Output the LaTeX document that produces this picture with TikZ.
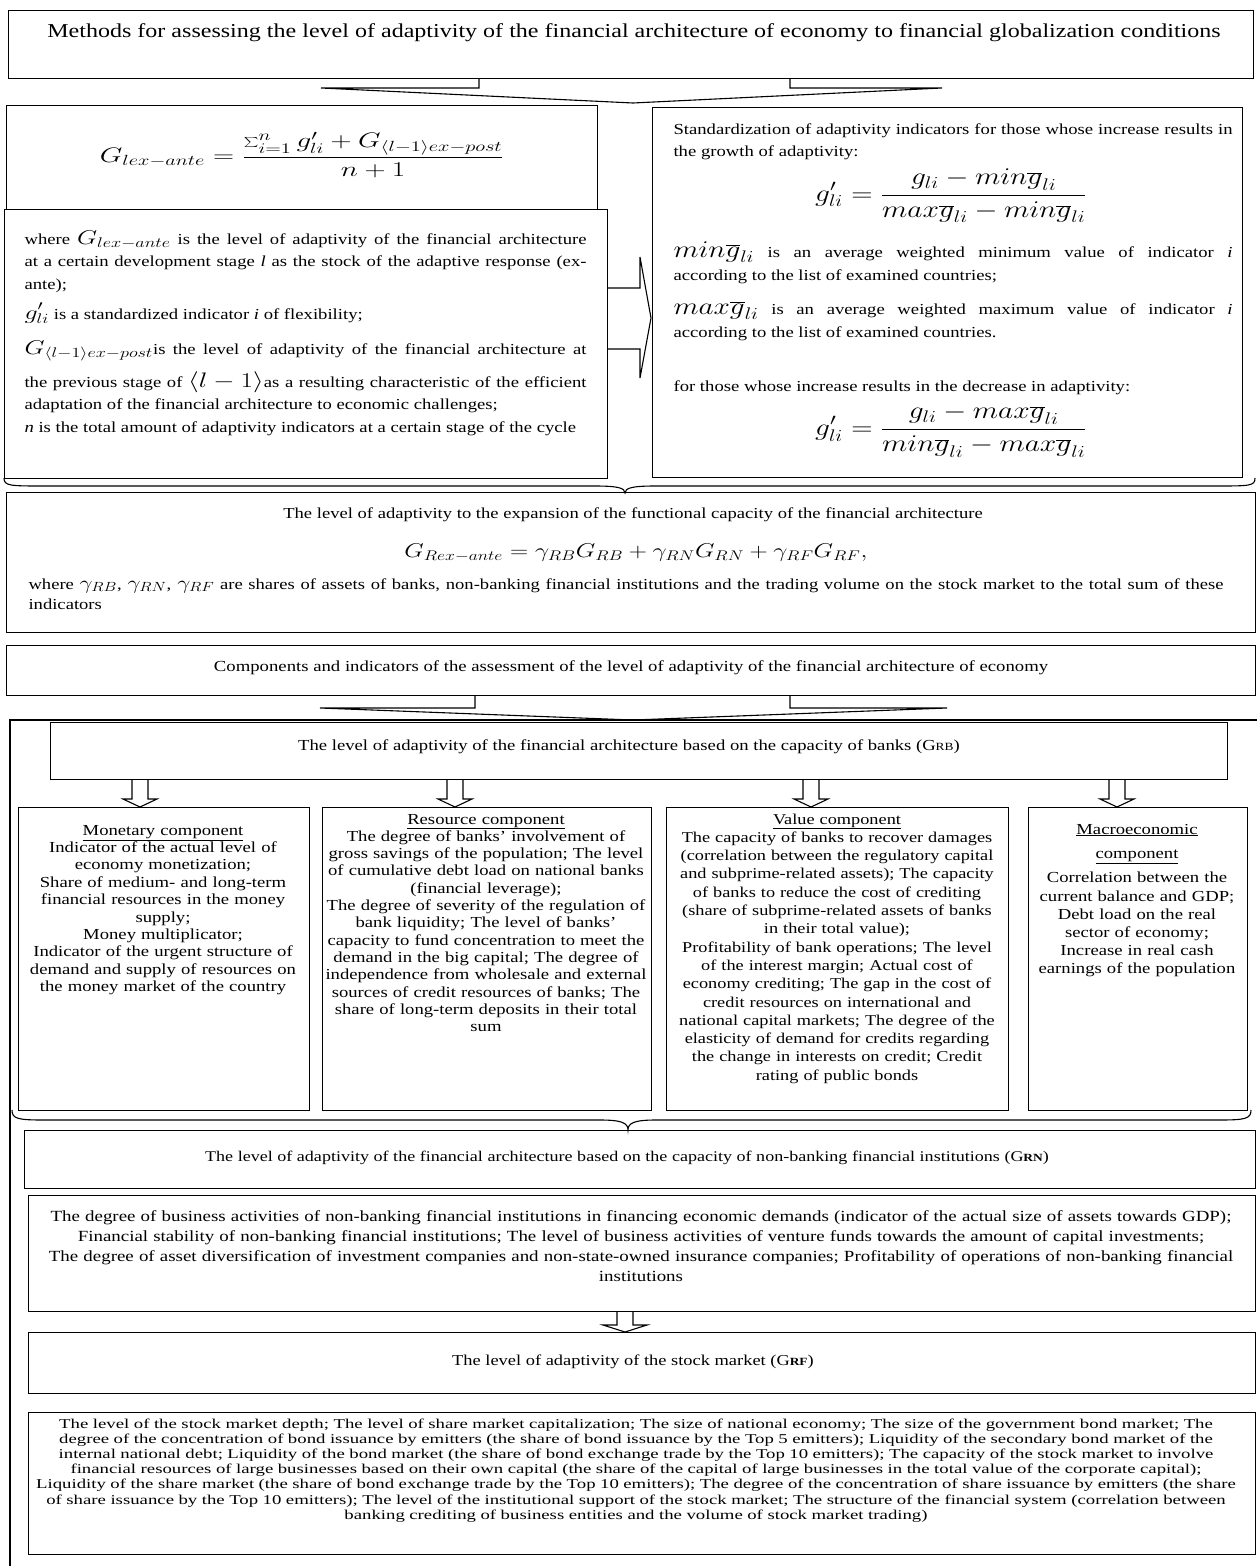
\RequirePackage{fix-cm}
\documentclass[tikz,border=0pt]{standalone}
\usepackage{fontspec}
\setmainfont{Liberation Serif}[FakeStretch=1.22]
\newfontfamily\widerm{Liberation Serif}[FakeStretch=1.39]
\usepackage{graphicx}
\usetikzlibrary{positioning}

\newcommand\fs[2]{\fontsize{#1}{#2}\selectfont\lineskiplimit=-50pt}
\newcommand\mwide[2][1.22]{\scalebox{#1}[1]{$\displaystyle #2$}}

\begin{document}
\begin{tikzpicture}[x=1pt, y=-1pt, line width=1.1pt,
    panel/.style={draw, anchor=north west, inner sep=0pt},
    txt/.style={inner sep=0pt, align=center},
    para/.style={inner sep=0pt, align=justify, anchor=base west},
    cmp/.style={inner sep=0pt, align=center, anchor=base}]
  \useasboundingbox (0,0) rectangle (1257,1566);

  % methods
  \node[panel, minimum width=1245, minimum height=68] (methods) at (8,10) {};
  \node[txt, font=\fs{19.7}{24}] (methodstxt) at (634,33) {Methods for assessing the level of adaptivity of the financial architecture of economy to financial globalization conditions};
  \draw (479,78) -- (479,88) -- (321,88) -- (633,103) -- (942,88) -- (790,88) -- (790,78);

  % ex-ante level
  \node[panel, minimum width=591, minimum height=120] (exante) at (6,105) {};
  \node[txt, font=\fs{21}{24}] (exantef) at (302,155) {\mwide[1.39]{G_{lex-ante}=\frac{\sum_{i=1}^{n}g'_{li}+G_{\langle l-1\rangle ex-post}}{n+1}}};
  \node[panel, fill=white, minimum width=603, minimum height=269] (where) at (4,209) {};
  \node[para, text width=562, font=\fs{15.3}{22.5}] (wheretxt) at (24,244) {where {\fs{20}{20}\mwide[1.3]{G_{lex-ante}}} is the level of adaptivity of the financial architecture\linebreak
    at a certain development stage \textit{l} as the stock of the adaptive response (ex-\linebreak
    ante);\\[7.5pt]
    {\fs{20}{20}\mwide[1.3]{g'_{li}}} is a standardized indicator \textit{i} of flexibility;\\[12.5pt]
    {\fs{20}{20}\mwide[1.3]{G_{\langle l-1\rangle ex-post}}}is the level of adaptivity of the financial architecture at\vadjust{\vskip10.5pt}\linebreak
    the previous stage of {\fs{21}{21}\mwide[1.3]{\langle l-1\rangle}}as a resulting characteristic of the efficient\linebreak
    adaptation of the financial architecture to economic challenges;\\
    \textit{n} is the total amount of adaptivity indicators at a certain stage of the cycle};
  \draw (607,288) -- (640,288) -- (640,257) -- (651,318) -- (640,378) -- (640,349) -- (607,349);

  % standardization
  \node[panel, minimum width=590, minimum height=370] (stdz) at (652,107) {};
  \node[para, text width=559, font=\fs{15.3}{22}] (stdztxt) at (673,134) {Standardization of adaptivity indicators for those whose increase results in\linebreak the growth of adaptivity:};
  \node[txt, font=\fs{24}{26}] (growf) at (951,196) {\mwide[1.23]{g'_{li}=\frac{g_{li}-min\overline{g}_{li}}{max\overline{g}_{li}-min\overline{g}_{li}}}};
  \node[para, text width=559, font=\fs{15.3}{23}] (mindef) at (673,257) {{\fs{24}{24}\mwide{min\overline{g}_{li}}} is an average weighted minimum value of indicator \textit{i}\linebreak according to the list of examined countries;};
  \node[para, text width=559, font=\fs{15.3}{23}] (maxdef) at (673,314) {{\fs{24}{24}\mwide{max\overline{g}_{li}}} is an average weighted maximum value of indicator \textit{i}\linebreak according to the list of examined countries.};
  \node[para, text width=559, font=\fs{15.3}{22}] (decrtxt) at (673,391) {for those whose increase results in the decrease in adaptivity:};
  \node[txt, font=\fs{24}{26}] (decrf) at (951,431) {\mwide[1.23]{g'_{li}=\frac{g_{li}-max\overline{g}_{li}}{min\overline{g}_{li}-max\overline{g}_{li}}}};

  \draw (4,478) .. controls (4,486) and (10,486) .. (45,486) -- (595,486) .. controls (618,486) and (625,488) .. (625,493) .. controls (625,488) and (632,486) .. (655,486) -- (1215,486) .. controls (1250,486) and (1255,486) .. (1255,478);

  % expansion
  \node[panel, minimum width=1249, minimum height=140] (expand) at (6,492) {};
  \node[txt, font=\fs{15.25}{18}] (expandtxt) at (633,515) {The level of adaptivity to the expansion of the functional capacity of the financial architecture};
  \node[txt, font=\fs{20}{24}] (expandf) at (636,553) {\mwide[1.26]{G_{Rex-ante}=\gamma_{RB}G_{RB}+\gamma_{RN}G_{RN}+\gamma_{RF}G_{RF},}};
  \node[para, text width=1195, font=\fs{15.25}{20}] (gammas) at (28,589) {where {\fs{19}{19}\mwide{\gamma_{RB}}}, {\fs{19}{19}\mwide{\gamma_{RN}}}, {\fs{19}{19}\mwide{\gamma_{RF}}} are shares of assets of banks, non-banking financial institutions and the trading volume on the stock market to the total sum of these\linebreak indicators};

  % components
  \node[panel, minimum width=1249, minimum height=50] (comps) at (6,645) {};
  \node[txt, font=\fs{15.35}{20}] (compstxt) at (631,668) {Components and indicators of the assessment of the level of adaptivity of the financial architecture of economy};
  \draw (475,695) -- (475,708) -- (320,708) -- (633,720) -- (947,708) -- (790,708) -- (790,695);
  \draw (1257,720) -- (10,720) -- (10,1566);

  % banks
  \node[panel, minimum width=1177, minimum height=57] (grb) at (50,722) {};
  \node[txt, font=\fs{15.3}{18}] (grbtxt) at (629,747) {The level of adaptivity of the financial architecture based on the capacity of banks (G{\fs{11}{11}RB})};
  \foreach \ax in {140,455,811,1117}
    \draw (\ax-8,779) -- (\ax-8,799) -- (\ax-17,799) -- (\ax,807) -- (\ax+17,799) -- (\ax+8,799) -- (\ax+8,779);

  \node[panel, minimum width=291, minimum height=303] (monetary) at (18,807) {};
  \node[panel, minimum width=329, minimum height=303] (resource) at (322,807) {};
  \node[panel, minimum width=342, minimum height=303] (value) at (666,807) {};
  \node[panel, minimum width=219, minimum height=303] (macro) at (1028,807) {};

  \node[cmp, text width=285, font=\fs{15.3}{17.4}] (monetarytxt) at (163,835) {\underline{Monetary component}\\
    Indicator of the actual level of\\ economy monetization;\\ Share of medium- and long-term\\ financial resources in the money\\ supply;\\ Money multiplicator;\\ Indicator of the urgent structure of\\ demand and supply of resources on\\ the money market of the country};
  \node[cmp, text width=325, font=\fs{15.3}{17.3}] (resourcetxt) at (486,824) {\underline{Resource component}\\
    The degree of banks’ involvement of\\ gross savings of the population; The level\\ of cumulative debt load on national banks\\ (financial leverage);\\ The degree of severity of the regulation of\\ bank liquidity; The level of banks’\\ capacity to fund concentration to meet the\\ demand in the big capital; The degree of\\ independence from wholesale and external\\ sources of credit resources of banks; The\\ share of long-term deposits in their total\\ sum};
  \node[cmp, text width=338, font=\fs{15}{18.3}] (valuetxt) at (837,824) {\underline{Value component}\\
    The capacity of banks to recover damages\\ (correlation between the regulatory capital\\ and subprime-related assets); The capacity\\ of banks to reduce the cost of crediting\\ (share of subprime-related assets of banks\\ in their total value);\\ Profitability of bank operations; The level\\ of the interest margin; Actual cost of\\ economy crediting; The gap in the cost of\\ credit resources on international and\\ national capital markets; The degree of the\\ elasticity of demand for credits regarding\\ the change in interests on credit; Credit\\ rating of public bonds};
  \node[cmp, text width=212, font=\fs{15.3}{18.2}] (macrotxt) at (1137,834) {\underline{Macroeconomic}\\[6.5pt]
    \underline{component}\\[6pt] Correlation between the\\ current balance and GDP;\\ Debt load on the real\\ sector of economy;\\ Increase in real cash\\ earnings of the population};

  \draw (12,1110) .. controls (12,1119) and (18,1120) .. (45,1120) -- (600,1120) .. controls (622,1120) and (628,1123) .. (628,1130) .. controls (628,1123) and (634,1120) .. (656,1120) -- (1218,1120) .. controls (1245,1120) and (1251,1119) .. (1251,1110);

  % non-banking
  \node[panel, minimum width=1231, minimum height=58] (grn) at (24,1130) {};
  \node[txt, font=\fs{14.8}{18}] (grntxt) at (627,1158) {The level of adaptivity of the financial architecture based on the capacity of non-banking financial institutions (G\textbf{\fs{11}{11}RN})};
  \node[panel, minimum width=1227, minimum height=116] (grnind) at (28,1195) {};
  \node[cmp, text width=1250, font=\fs{15.5}{20}] (grnindtxt) at (641,1221) {The degree of business activities of non-banking financial institutions in financing economic demands (indicator of the actual size of assets towards GDP);\\
    Financial stability of non-banking financial institutions; The level of business activities of venture funds towards the amount of capital investments;\\
    The degree of asset diversification of investment companies and non-state-owned insurance companies; Profitability of operations of non-banking financial\\ institutions};
  \draw (617,1311) -- (617,1325) -- (603,1325) -- (625,1332) -- (647,1325) -- (633,1325) -- (633,1311);

  % stock market
  \node[panel, minimum width=1227, minimum height=61] (grf) at (28,1332) {};
  \node[txt, font=\fs{15.1}{18}] (grftxt) at (633,1362) {The level of adaptivity of the stock market (G\textbf{\fs{11}{11}RF})};
  \node[panel, minimum width=1227, minimum height=142] (grfind) at (28,1412) {};
  \node[cmp, text width=1257, font=\widerm\fs{13.5}{15.2}] (grfindtxt) at (636,1428) {The level of the stock market depth; The level of share market capitalization; The size of national economy; The size of the government bond market; The\\
    degree of the concentration of bond issuance by emitters (the share of bond issuance by the Top 5 emitters); Liquidity of the secondary bond market of the\\
    internal national debt; Liquidity of the bond market (the share of bond exchange trade by the Top 10 emitters); The capacity of the stock market to involve\\
    financial resources of large businesses based on their own capital (the share of the capital of large businesses in the total value of the corporate capital);\\
    Liquidity of the share market (the share of bond exchange trade by the Top 10 emitters); The degree of the concentration of share issuance by emitters (the share\\
    of share issuance by the Top 10 emitters); The level of the institutional support of the stock market; The structure of the financial system (correlation between\\
    banking crediting of business entities and the volume of stock market trading)};
\end{tikzpicture}
\end{document}
